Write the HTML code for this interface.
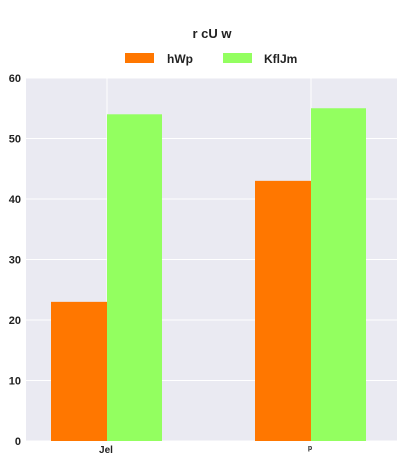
<!DOCTYPE html>
<html><head><meta charset="utf-8"><style>
body{margin:0;background:#fff;font-family:"Liberation Sans",sans-serif}
</style></head><body>
<svg width="406" height="464" id="c">
<text x="212" y="38" text-anchor="middle" font-size="13" font-weight="bold" fill="#222">r cU w</text>
<rect x="125" y="53" width="29" height="10" fill="#ff7700"/>
<text x="167" y="63" font-size="12" font-weight="bold" fill="#222">hWp</text>
<rect x="223" y="53" width="29" height="10" fill="#93ff60"/>
<text x="264" y="63" font-size="12" font-weight="bold" fill="#222">KflJm</text>
<rect x="26" y="78" width="371" height="363" fill="#eaeaf2"/>
<g id="grid"></g><g id="bars"></g><g id="ticks"></g>
</svg>
<script>
const categories=["Jel","p"];
const seriesA=[23,43];
const seriesB=[54,55];
const yTicks=[0,10,20,30,40,50,60];
const ns="http://www.w3.org/2000/svg";
const x0=26,x1=397,yTop=78,yBot=441;
function y(v){return yBot-(v/60)*(yBot-yTop);}
function cx(i){return 107+i*204;}
function mk(t,a,p){const e=document.createElementNS(ns,t);for(const k in a)e.setAttribute(k,a[k]);document.getElementById(p).appendChild(e);return e;}
yTicks.forEach(v=>{
 const l=mk("line",{x1:x0,x2:x1,y1:y(v),y2:y(v),stroke:"#fff","stroke-width":1},"grid");
 
 
 const t=mk("text",{x:21,y:y(v)+4,"text-anchor":"end","font-size":"11","font-weight":"bold",fill:"#222"},"ticks");
 t.textContent=v;
 
 
});
categories.forEach((c,i)=>{
 const g=mk("line",{x1:cx(i),x2:cx(i),y1:yTop,y2:yBot,stroke:"#fff","stroke-width":1},"grid");
 
 
 const a=mk("rect",{x:cx(i)-56,y:y(seriesA[i]),width:56,height:yBot-y(seriesA[i]),fill:"#ff7700"},"bars");
 
 
 const b=mk("rect",{x:cx(i),y:y(seriesB[i]),width:55,height:yBot-y(seriesB[i]),fill:"#93ff60"},"bars");
 
 
 const t=mk("text",{x:cx(i)-1,y:i==0?453:450,"text-anchor":"middle","font-size":i==0?"10":"7","font-weight":"bold",fill:"#222"},"ticks");
 t.textContent=c;
 
 
});
</script>
</body></html>
